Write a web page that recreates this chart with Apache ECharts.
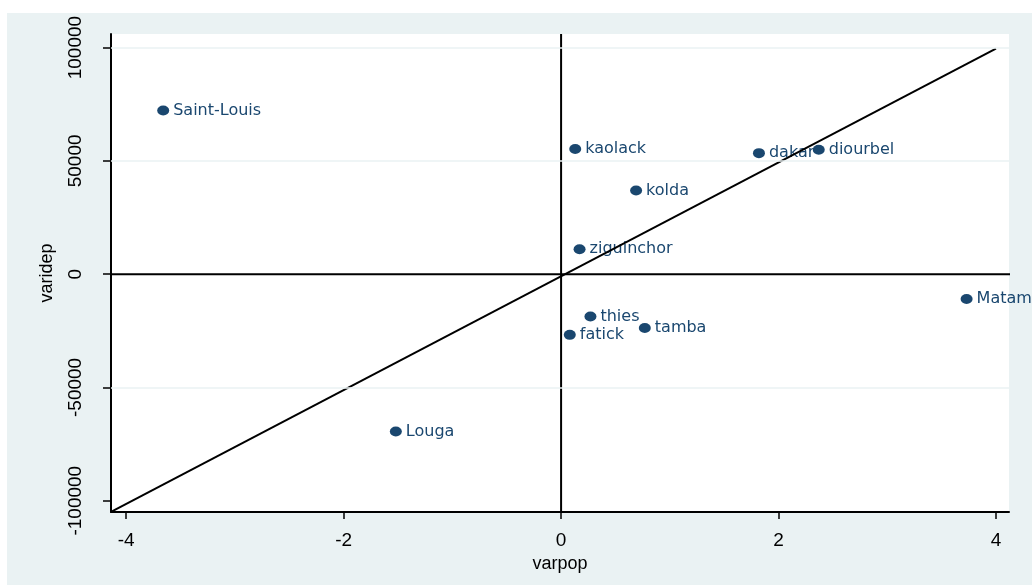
<!DOCTYPE html>
<html><head><meta charset="utf-8">
<script src="https://cdn.jsdelivr.net/npm/echarts@6/dist/echarts.min.js"></script>
<style>html,body{margin:0;padding:0;background:#fff}#c{width:1032px;height:585px}</style>
</head><body><div id="c"></div>
<script>
const regions = ['Saint-Louis','kaolack','dakar','diourbel','kolda','ziguinchor','thies','tamba','fatick','Matam','Louga'];
const varpop  = [-3.66, 0.13, 1.82, 2.37, 0.69, 0.17, 0.27, 0.77, 0.08, 3.73, -1.52];
const varidep = [72200, 55200, 53400, 54900, 36900, 11000, -18700, -23800, -26800, -11000, -69500];
const xTicks = [-4, -2, 0, 2, 4];
const yTicks = [-100000, -50000, 0, 50000, 100000];
const yGridValues = [-50000, 50000, 100000];
const xRange = [-4.14, 4.12];
const yRange = [-105000, 106000];
const diagonalLine = [[-4.14, -104900], [4.0, 99500]];
const vLine = [[0, -105000], [0, 106000]];
const hLine = [[-4.14, 0], [4.29, 0]];

const navy = '#1a476f';
const bg = '#eaf2f3';
const points = varpop.map((x, i) => [x, varidep[i], regions[i]]);
const lineStyle = {color: '#000', width: 2};

const chart = echarts.init(document.getElementById('c'));
chart.setOption({
  backgroundColor: bg,
  animation: false,
  graphic: [
    {type: 'rect', shape: {x: 0, y: 0, width: 1032, height: 13}, style: {fill: '#fff'}, silent: true},
    {type: 'rect', shape: {x: 0, y: 0, width: 7, height: 585}, style: {fill: '#fff'}, silent: true}
  ],
  grid: {left: 111, right: 23, top: 34, bottom: 73, show: true, backgroundColor: '#fff', borderWidth: 0},
  xAxis: {
    type: 'value', min: xRange[0], max: xRange[1],
    axisLine: {show: true, onZero: false, lineStyle: lineStyle},
    axisTick: {show: true, customValues: xTicks, length: 7, lineStyle: {color: '#000', width: 1.5}},
    axisLabel: {customValues: xTicks, color: '#000', fontFamily: 'Liberation Sans', fontSize: 19, margin: 19,
      formatter: v => String(v)},
    splitLine: {show: false},
    name: 'varpop', nameLocation: 'middle', nameGap: 34,
    nameTextStyle: {color: '#000', fontFamily: 'Liberation Sans', fontSize: 18}
  },
  yAxis: {
    type: 'value', min: yRange[0], max: yRange[1],
    axisLine: {show: true, onZero: false, lineStyle: lineStyle},
    axisTick: {show: true, customValues: yTicks, length: 8, lineStyle: {color: '#000', width: 1.5}},
    axisLabel: {customValues: yTicks, rotate: 90, color: '#000', fontFamily: 'Liberation Sans', fontSize: 19, margin: 26,
      formatter: v => String(v)},
    splitLine: {show: false},
    name: 'varidep', nameLocation: 'middle', nameRotate: 90, nameGap: 55,
    nameTextStyle: {color: '#000', fontFamily: 'Liberation Sans', fontSize: 18}
  },
  series: [
    {
      type: 'line', data: [], silent: true, z: 1,
      markLine: {
        silent: true, symbol: 'none', animation: false,
        label: {show: false},
        lineStyle: {color: bg, width: 1.5, type: 'solid'},
        data: yGridValues.map(v => ({yAxis: v}))
      }
    },
    {
      type: 'scatter', data: points, z: 3,
      symbol: 'circle', symbolSize: [12, 10],
      itemStyle: {color: navy, opacity: 1},
      label: {
        show: true, position: 'right', distance: 4,
        formatter: p => p.data[2],
        color: navy, fontFamily: 'DejaVu Sans', fontSize: 16
      }
    },
    {type: 'line', data: diagonalLine, symbol: 'none', silent: true, z: 4, lineStyle: lineStyle},
    {type: 'line', data: vLine, symbol: 'none', silent: true, z: 4, lineStyle: lineStyle},
    {type: 'line', data: hLine, symbol: 'none', silent: true, z: 4, clip: false, lineStyle: lineStyle}
  ]
});
</script></body></html>
